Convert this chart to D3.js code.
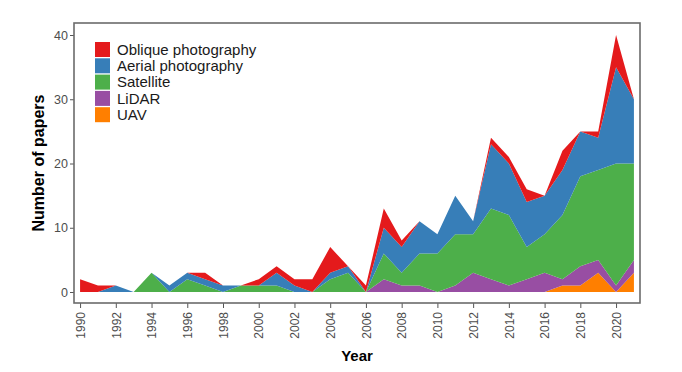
<!DOCTYPE html>
<html>
<head>
<meta charset="utf-8">
<script src="https://cdn.jsdelivr.net/npm/d3@7"></script>
<style>
  body { margin: 0; background: #fff; }
  svg { font-family: "Liberation Sans", Arial, sans-serif; }
</style>
</head>
<body>
<div id="chart"></div>
<script>
const width = 682;
const height = 372;

// data, one value per year 1990..2021
const years = d3.range(1990, 2022);
const oblique   = [2,1,0,0,0,0,0,1,0,0,1,1,1,2,4,0,1,3,1,0,0,0,0,1,1,2,0,3,0,1,5,0];
const aerial    = [0,0,1,0,0,1,1,1,1,0,0,2,1,0,1,1,0,4,4,5,3,6,2,10,8,7,6,7,7,5,15,10];
const satellite = [0,0,0,0,3,0,2,1,0,1,1,1,0,0,2,3,0,4,2,5,6,8,6,11,11,5,6,10,14,14,19,15];
const lidar     = [0,0,0,0,0,0,0,0,0,0,0,0,0,0,0,0,0,2,1,1,0,1,3,2,1,2,3,1,3,2,1,2];
const uav       = [0,0,0,0,0,0,0,0,0,0,0,0,0,0,0,0,0,0,0,0,0,0,0,0,0,0,0,1,1,3,0,3];

const yTicks = [0, 10, 20, 30, 40];
const xTicks = d3.range(1990, 2021, 2);

// legend order (top to bottom) and colours
const legendKeys = ['Oblique photography', 'Aerial photography', 'Satellite', 'LiDAR', 'UAV'];
const colors = ['#E41A1C', '#377EB8', '#4DAF4A', '#984EA3', '#FF7F00'];

function drawChart() {
    const table = years.map((yr, i) => ({
        year: yr,
        'UAV': uav[i],
        'LiDAR': lidar[i],
        'Satellite': satellite[i],
        'Aerial photography': aerial[i],
        'Oblique photography': oblique[i],
    }));

    // stack bottom to top
    const stackKeys = legendKeys.slice().reverse();
    const series = d3.stack().keys(stackKeys)(table);
    const color = d3.scaleOrdinal().domain(legendKeys).range(colors);

    const panel = { left: 74, right: 640, top: 23, bottom: 303 };

    const xScale = d3.scaleLinear()
        .domain([1989.66, 2021.34])
        .range([panel.left, panel.right]);
    const yScale = d3.scaleLinear()
        .domain([-1.71, 41.87])
        .range([panel.bottom, panel.top]);

    const svg = d3.select('#chart')
        .append('svg')
        .attr('width', width)
        .attr('height', height);

    const area = d3.area()
        .x((d) => xScale(d.data.year))
        .y0((d) => yScale(d[0]))
        .y1((d) => yScale(d[1]));

    svg.append('g')
        .selectAll('path')
        .data(series)
        .join('path')
        .attr('fill', (d) => color(d.key))
        .attr('d', area);

    // axes
    const xAxis = svg.append('g')
        .attr('transform', `translate(0, ${panel.bottom})`)
        .call(d3.axisBottom(xScale).tickValues(xTicks).tickFormat(d3.format('d')).tickSize(5).tickSizeOuter(0));
    xAxis.select('.domain').remove();
    xAxis.selectAll('line').attr('stroke', '#555');
    xAxis.selectAll('text')
        .attr('transform', 'rotate(-90)')
        .attr('text-anchor', 'end')
        .attr('x', -9)
        .attr('y', 0)
        .attr('dy', '0.35em')
        .attr('fill', '#4d4d4d')
        .style('font-size', '12px');

    const yAxis = svg.append('g')
        .attr('transform', `translate(${panel.left}, 0)`)
        .call(d3.axisLeft(yScale).tickValues(yTicks).tickSize(4).tickSizeOuter(0));
    yAxis.select('.domain').remove();
    yAxis.selectAll('line').attr('stroke', '#555');
    yAxis.selectAll('text')
        .attr('x', -6)
        .attr('fill', '#4d4d4d')
        .style('font-size', '12.5px');

    // panel border
    svg.append('rect')
        .attr('x', panel.left)
        .attr('y', panel.top)
        .attr('width', panel.right - panel.left)
        .attr('height', panel.bottom - panel.top)
        .attr('fill', 'none')
        .attr('stroke', '#6b6b6b')
        .attr('stroke-width', 1.6);

    // axis titles
    svg.append('text')
        .attr('x', (panel.left + panel.right) / 2)
        .attr('y', 361)
        .attr('text-anchor', 'middle')
        .style('font-size', '15px')
        .style('font-weight', 'bold')
        .text('Year');

    svg.append('text')
        .attr('transform', `translate(44, ${(panel.top + panel.bottom) / 2}) rotate(-90)`)
        .attr('text-anchor', 'middle')
        .style('font-size', '16px')
        .style('font-weight', 'bold')
        .text('Number of papers');

    // legend
    const legend = svg.append('g').attr('transform', 'translate(95, 42)');
    const rows = legend.selectAll('g')
        .data(legendKeys)
        .join('g')
        .attr('transform', (d, i) => `translate(0, ${i * 16.3})`);
    rows.append('rect')
        .attr('width', 15)
        .attr('height', 15)
        .attr('fill', (d) => color(d));
    rows.append('text')
        .attr('x', 22)
        .attr('y', 7.5)
        .attr('dy', '0.35em')
        .style('font-size', '15px')
        .attr('fill', '#1a1a1a')
        .text((d) => d);
}

drawChart();
</script>
</body>
</html>
